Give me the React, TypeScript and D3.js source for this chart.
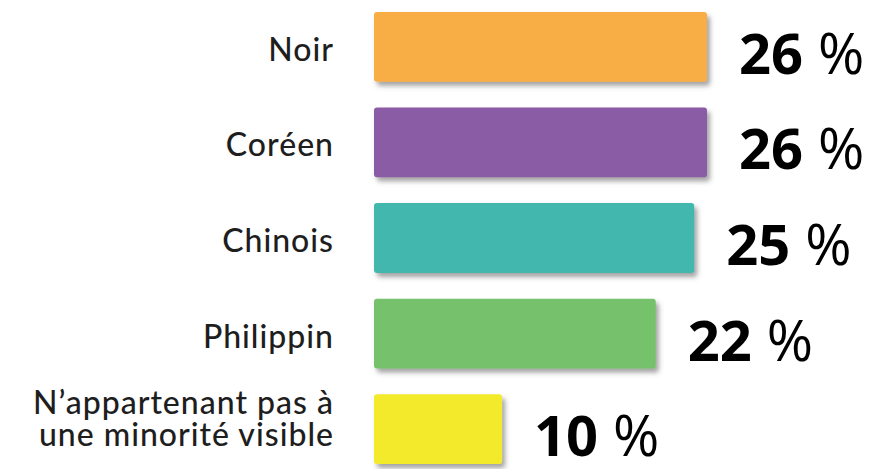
import React from "react";
import * as d3 from "d3";

const categories = ["Noir", "Coréen", "Chinois", "Philippin", "N’appartenant pas à|une minorité visible"];
const values = [26, 26, 25, 22, 10];
const valueNumbers = ["26", "26", "25", "22", "10"];
const percentSign = "%";
const colors = ["#F9AE45", "#8B5BA6", "#42B7AD", "#76C26C", "#F2EA2A"];

const W = 886;
const H = 469;

export default function App() {
  const x = d3.scaleLinear().domain([0, 26]).range([374, 707]);
  const y = d3.scaleBand<string>().domain(categories).range([12, 464]).paddingInner(0.27).paddingOuter(0);
  const bw = y.bandwidth();
  return (
    <svg width={W} height={H} style={{ position: "absolute", left: 0, top: 0, background: "#fff" }}>
      <defs>
        <filter id="sh" x="-5%" y="-20%" width="115%" height="160%">
          <feDropShadow dx="3" dy="4" stdDeviation="2.5" floodColor="#555" floodOpacity="0.55" />
        </filter>
      </defs>
      {categories.map((c, i) => {
        const y0 = y(c)!;
        const cy = y0 + bw / 2;
        const lines = c.split("|");
        const n = lines.length;
        const x1 = x(values[i]);
        return (
          <g key={c}>
            <rect x={x(0)} y={y0} width={x1 - x(0)} height={bw} rx={3} fill={colors[i]} filter="url(#sh)" />
            <text
              x={334}
              textAnchor="end"
              fontFamily="Lato, sans-serif"
              fontSize={32}
              fontWeight={500}
              fill="#1e1e1e"
              letterSpacing={1}
            >
              {lines.map((l, j) => (
                <tspan key={j} x={334} y={cy + 14 - 13 * (n - 1) + (j - (n - 1) / 2) * 32}>
                  {l}
                </tspan>
              ))}
            </text>
            <text
              x={x1 + 32}
              y={cy + 27}
              fontFamily="'Open Sans', sans-serif"
              fontSize={56}
              fontWeight={700}
              fill="#000"
              letterSpacing={0}
            >
              {valueNumbers[i]}
              <tspan fontWeight={400} dx={15}>{percentSign}</tspan>
            </text>
          </g>
        );
      })}
    </svg>
  );
}
